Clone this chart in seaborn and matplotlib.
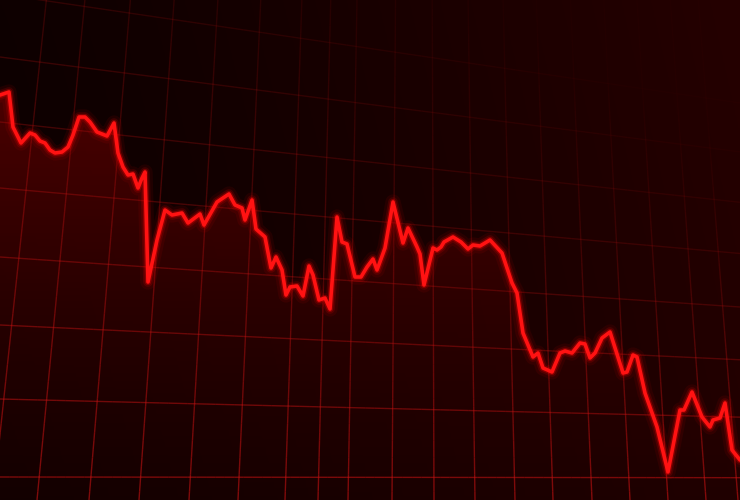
import numpy as np
import pandas as pd
import matplotlib
matplotlib.use("Agg")
import matplotlib.pyplot as plt
import seaborn as sns
from matplotlib.collections import LineCollection

# Price trace (session position, price level)
session = [0, 9, 13, 21, 30, 35, 40, 45, 50, 55, 62, 68, 73, 79, 85, 90, 97, 107,
           114, 118, 123, 128, 133, 138, 142, 145, 148, 157, 165, 172, 182, 188,
           200, 204, 217, 229, 235, 242, 245, 252, 256, 265, 271, 276, 282, 286,
           290, 297, 303, 309, 313, 319, 325, 330, 337, 342, 347, 355, 361, 367,
           373, 377, 385, 393, 403, 408, 417, 420, 424, 433, 437, 441, 444, 453,
           461, 468, 473, 480, 490, 502, 512, 517, 523, 533, 538, 543, 552, 560,
           565, 572, 580, 585, 590, 595, 602, 610, 623, 627, 633, 637, 645, 657,
           668, 680, 684, 692, 702, 710, 713, 720, 725, 732, 740]
price = [405, 408, 373, 357, 367, 365, 359, 357, 350, 347, 348, 353, 365, 383,
         383, 378, 368, 364, 377, 347, 333, 325, 326, 312, 322, 328, 218, 260,
         290, 285, 287, 277, 286, 275, 298, 306, 295, 292, 280, 300, 271, 263,
         232, 243, 230, 205, 213, 214, 204, 234, 225, 200, 202, 191, 283, 258,
         256, 223, 223, 233, 241, 230, 252, 298, 257, 272, 253, 246, 215, 252,
         250, 253, 258, 263, 258, 251, 255, 254, 260, 247, 217, 207, 167, 143,
         147, 132, 128, 147, 149, 147, 157, 156, 142, 147, 162, 168, 127, 128,
         145, 143, 107, 73, 28, 90, 90, 108, 83, 73, 80, 82, 97, 50, 40]

# Perspective grid: where the grid lines meet the bottom / left edges
grid_x_bottom = [-7, 37, 89, 139, 189, 238, 285, 318, 348, 392, 434, 475, 515,
                 553, 592, 630, 668, 706, 738]
grid_y_left = [506, 443, 378, 312, 243, 175, 101, 23]
vanish_vertical = (420, 4000)
vanish_horizontal = (3300, 20)

df = pd.DataFrame({"session": session, "price": price})

sns.set_style("dark")
fig = plt.figure(figsize=(7.4, 5), dpi=100)
ax = fig.add_axes([0, 0, 1, 1])

# Dark background, a little redder towards the right
gx, gy = np.meshgrid(np.linspace(0, 1, 300), np.linspace(0, 1, 200))
bg = np.zeros((200, 300, 3))
bg[..., 0] = 0.04 + 0.09 * gx ** 1.1 + 0.015 * gy
ax.imshow(bg, extent=(0, 740, 0, 500), origin="lower", aspect="auto", zorder=0)

# Red glow under the line, fading downwards
fill = np.zeros((200, 2, 4))
fade = np.linspace(0, 1, 200)[:, None]
fill[..., 0] = 0.12 + 0.20 * fade
fill[..., 3] = 0.45 + 0.5 * fade
poly = ax.fill_between(df["session"], df["price"], 0, color="none", zorder=1)
img = ax.imshow(fill, extent=(0, 740, 0, 420), origin="lower", aspect="auto", zorder=1)
img.set_clip_path(poly.get_paths()[0], transform=ax.transData)


def grid_alpha(x, y):
    # grid fades towards the top and is almost gone in the upper right
    top = np.clip(y / 500, 0, 1)
    right = np.clip(x / 740, 0, 1)
    return 0.6 * (1 - 0.65 * top) * np.clip(1 - 1.3 * right * top, 0.08, 1)


segs, alphas = [], []
ys = np.linspace(0, 500, 60)
for xb in grid_x_bottom:
    xs = xb + (vanish_vertical[0] - xb) * ys / vanish_vertical[1]
    pts = np.column_stack([xs, ys])
    segs += [pts[i:i + 2] for i in range(len(pts) - 1)]
    alphas += list(grid_alpha(xs[:-1], ys[:-1]))
xs = np.linspace(0, 740, 80)
for yl in grid_y_left:
    yy = yl + (vanish_horizontal[1] - yl) * xs / vanish_horizontal[0]
    pts = np.column_stack([xs, yy])
    segs += [pts[i:i + 2] for i in range(len(pts) - 1)]
    alphas += list(grid_alpha(xs[:-1], yy[:-1]))
colors = [(0.78, 0.07, 0.07, a) for a in alphas]
ax.add_collection(LineCollection(segs, colors=colors, linewidths=1.0, zorder=2))

# Glowing red price line
for lw, a in [(11, 0.07), (7, 0.14), (4.5, 0.3)]:
    sns.lineplot(data=df, x="session", y="price", color="#ff0000", lw=lw,
                 alpha=a, ax=ax, zorder=3)
sns.lineplot(data=df, x="session", y="price", color="#ff1212", lw=2.6, ax=ax, zorder=4)
ax.set_xlim(0, 740)
ax.set_ylim(0, 500)
ax.axis("off")

fig.savefig("out.png", dpi=100, facecolor="black")
